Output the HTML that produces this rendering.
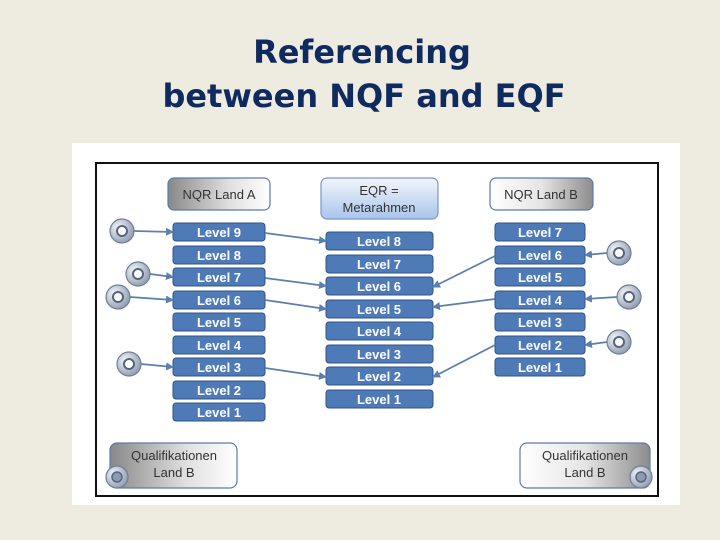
<!DOCTYPE html>
<html><head><meta charset="utf-8"><style>
body{margin:0;width:720px;height:540px;background:#eeebe1;overflow:hidden;position:relative;font-family:"DejaVu Sans",sans-serif}
</style></head><body>
<svg width="720" height="540" viewBox="0 0 720 540" style="position:absolute;left:0;top:0">
<defs>
<linearGradient id="gA" x1="0" x2="1"><stop offset="0" stop-color="#888"/><stop offset="0.6" stop-color="#e0e0e0"/><stop offset="1" stop-color="#fff"/></linearGradient>
<linearGradient id="gB" x1="0" x2="1"><stop offset="0" stop-color="#fff"/><stop offset="0.5" stop-color="#e5e5e5"/><stop offset="1" stop-color="#8c8c8c"/></linearGradient>
<linearGradient id="gE" x1="0" y1="0" x2="0" y2="1"><stop offset="0" stop-color="#f2f6fc"/><stop offset="1" stop-color="#a9c4ec"/></linearGradient>
<radialGradient id="gC" cx="0.35" cy="0.35" r="0.7"><stop offset="0" stop-color="#f4f6f9"/><stop offset="1" stop-color="#8f9bb0"/></radialGradient>
<marker id="ah" markerWidth="8" markerHeight="8" refX="7" refY="4" orient="auto" markerUnits="userSpaceOnUse"><path d="M0,0 L8,4 L0,8 z" fill="#5b7fae"/></marker>
</defs>
<text x="362" y="63" text-anchor="middle" font-family="DejaVu Sans,sans-serif" font-weight="bold" font-size="32" fill="#0f2a5e">Referencing</text>
<text x="364" y="107" text-anchor="middle" font-family="DejaVu Sans,sans-serif" font-weight="bold" font-size="32" fill="#0f2a5e">between NQF and EQF</text>
<rect x="72" y="143" width="608" height="362" fill="#fff"/>
<rect x="96" y="163" width="562" height="333" fill="#fff" stroke="#111" stroke-width="2"/>
<g font-family="Liberation Sans,sans-serif" font-size="13" fill="#333" text-anchor="middle">
<rect x="168" y="178" width="102" height="32" rx="6" fill="url(#gA)" stroke="#5a7bb0" stroke-width="1.2"/>
<text x="219" y="199">NQR Land A</text>
<rect x="321" y="178" width="117" height="41" rx="6" fill="url(#gE)" stroke="#7a97c8" stroke-width="1.2"/>
<text x="379" y="195">EQR =</text><text x="379" y="212">Metarahmen</text>
<rect x="490" y="178" width="103" height="32" rx="6" fill="url(#gB)" stroke="#5a7bb0" stroke-width="1.2"/>
<text x="541" y="199">NQR Land B</text>
<rect x="110" y="443" width="127" height="45" rx="7" fill="url(#gA)" stroke="#5a7bb0" stroke-width="1.2"/>
<text x="174" y="460">Qualifikationen</text><text x="174" y="477">Land B</text>
<rect x="520" y="443" width="130" height="45" rx="7" fill="url(#gB)" stroke="#5a7bb0" stroke-width="1.2"/>
<text x="585" y="460">Qualifikationen</text><text x="585" y="477">Land B</text>
</g>
<g font-family="Liberation Sans,sans-serif" font-size="13" font-weight="bold" fill="#fff" text-anchor="middle">
<g id="lvl">
<rect x="173" y="223" width="92" height="18" rx="3" fill="#4f7ab8" stroke="#2f5486"/><text x="219" y="237">Level 9</text>
<rect x="173" y="246" width="92" height="18" rx="3" fill="#4f7ab8" stroke="#2f5486"/><text x="219" y="260">Level 8</text>
<rect x="173" y="268" width="92" height="18" rx="3" fill="#4f7ab8" stroke="#2f5486"/><text x="219" y="282">Level 7</text>
<rect x="173" y="291" width="92" height="18" rx="3" fill="#4f7ab8" stroke="#2f5486"/><text x="219" y="305">Level 6</text>
<rect x="173" y="313" width="92" height="18" rx="3" fill="#4f7ab8" stroke="#2f5486"/><text x="219" y="327">Level 5</text>
<rect x="173" y="336" width="92" height="18" rx="3" fill="#4f7ab8" stroke="#2f5486"/><text x="219" y="350">Level 4</text>
<rect x="173" y="358" width="92" height="18" rx="3" fill="#4f7ab8" stroke="#2f5486"/><text x="219" y="372">Level 3</text>
<rect x="173" y="381" width="92" height="18" rx="3" fill="#4f7ab8" stroke="#2f5486"/><text x="219" y="395">Level 2</text>
<rect x="173" y="403" width="92" height="18" rx="3" fill="#4f7ab8" stroke="#2f5486"/><text x="219" y="417">Level 1</text>
</g>
<rect x="326" y="232" width="107" height="18" rx="3" fill="#4f7ab8" stroke="#2f5486"/><text x="379" y="246">Level 8</text>
<rect x="326" y="255" width="107" height="18" rx="3" fill="#4f7ab8" stroke="#2f5486"/><text x="379" y="269">Level 7</text>
<rect x="326" y="277" width="107" height="18" rx="3" fill="#4f7ab8" stroke="#2f5486"/><text x="379" y="291">Level 6</text>
<rect x="326" y="300" width="107" height="18" rx="3" fill="#4f7ab8" stroke="#2f5486"/><text x="379" y="314">Level 5</text>
<rect x="326" y="322" width="107" height="18" rx="3" fill="#4f7ab8" stroke="#2f5486"/><text x="379" y="336">Level 4</text>
<rect x="326" y="345" width="107" height="18" rx="3" fill="#4f7ab8" stroke="#2f5486"/><text x="379" y="359">Level 3</text>
<rect x="326" y="367" width="107" height="18" rx="3" fill="#4f7ab8" stroke="#2f5486"/><text x="379" y="381">Level 2</text>
<rect x="326" y="390" width="107" height="18" rx="3" fill="#4f7ab8" stroke="#2f5486"/><text x="379" y="404">Level 1</text>
<rect x="495" y="223" width="90" height="18" rx="3" fill="#4f7ab8" stroke="#2f5486"/><text x="540" y="237">Level 7</text>
<rect x="495" y="246" width="90" height="18" rx="3" fill="#4f7ab8" stroke="#2f5486"/><text x="540" y="260">Level 6</text>
<rect x="495" y="268" width="90" height="18" rx="3" fill="#4f7ab8" stroke="#2f5486"/><text x="540" y="282">Level 5</text>
<rect x="495" y="291" width="90" height="18" rx="3" fill="#4f7ab8" stroke="#2f5486"/><text x="540" y="305">Level 4</text>
<rect x="495" y="313" width="90" height="18" rx="3" fill="#4f7ab8" stroke="#2f5486"/><text x="540" y="327">Level 3</text>
<rect x="495" y="336" width="90" height="18" rx="3" fill="#4f7ab8" stroke="#2f5486"/><text x="540" y="350">Level 2</text>
<rect x="495" y="358" width="90" height="18" rx="3" fill="#4f7ab8" stroke="#2f5486"/><text x="540" y="372">Level 1</text>
</g>
<g stroke="#5b7fae" stroke-width="1.8" fill="none" marker-end="url(#ah)">
<line x1="134" y1="231" x2="173" y2="232"/>
<line x1="150" y1="274" x2="173" y2="277"/>
<line x1="130" y1="297" x2="173" y2="300"/>
<line x1="141" y1="364" x2="173" y2="367"/>
<line x1="265" y1="233" x2="326" y2="241"/>
<line x1="265" y1="278" x2="326" y2="286"/>
<line x1="265" y1="300" x2="326" y2="309"/>
<line x1="265" y1="368" x2="326" y2="377"/>
<line x1="607" y1="253" x2="585" y2="255"/>
<line x1="617" y1="297" x2="585" y2="299"/>
<line x1="607" y1="342" x2="585" y2="345"/>
<line x1="495" y1="256" x2="433" y2="287"/>
<line x1="495" y1="299" x2="433" y2="307"/>
<line x1="495" y1="345" x2="433" y2="377"/>
</g>
<g fill="url(#gC)" stroke="#6f7f99" stroke-width="1.2">
<circle cx="122" cy="231" r="12"/><circle cx="138" cy="274" r="12"/><circle cx="118" cy="297" r="12"/><circle cx="129" cy="364" r="12"/>
<circle cx="619" cy="253" r="12"/><circle cx="629" cy="297" r="12"/><circle cx="619" cy="342" r="12"/>
<circle cx="117" cy="477" r="11"/><circle cx="641" cy="477" r="11"/>
</g>
<g fill="#fff" stroke="#55657f" stroke-width="2">
<circle cx="122" cy="231" r="5"/><circle cx="138" cy="274" r="5"/><circle cx="118" cy="297" r="5"/><circle cx="129" cy="364" r="5"/>
<circle cx="619" cy="253" r="5"/><circle cx="629" cy="297" r="5"/><circle cx="619" cy="342" r="5"/>
</g>
<g fill="#8d9ab0" stroke="#55657f" stroke-width="1.5"><circle cx="117" cy="477" r="5"/><circle cx="641" cy="477" r="5"/></g>
</svg>
</body></html>
